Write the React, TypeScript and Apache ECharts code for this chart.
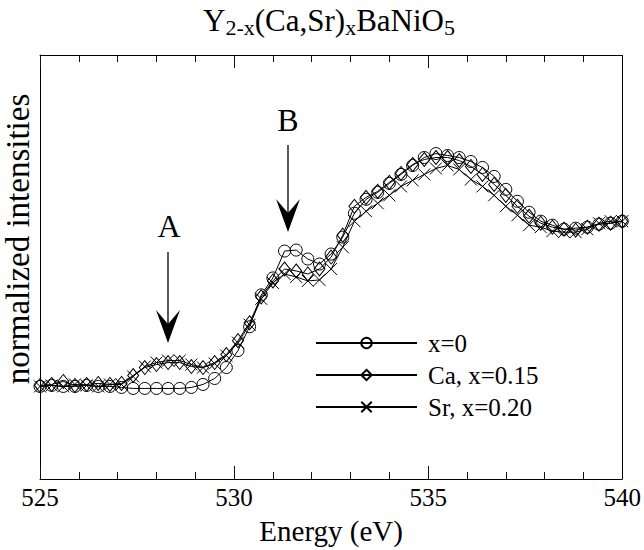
import React, { useEffect, useRef } from "react";
import * as echarts from "echarts";

// Photon energy (eV)
const energy = [
  525.0, 525.3, 525.6, 525.9, 526.2, 526.5, 526.8, 527.1, 527.4, 527.7,
  528.0, 528.3, 528.6, 528.9, 529.2, 529.5, 529.8, 530.1, 530.4, 530.7,
  531.0, 531.3, 531.6, 531.9, 532.2, 532.5, 532.8, 533.1, 533.4, 533.7,
  534.0, 534.3, 534.6, 534.9, 535.2, 535.5, 535.8, 536.1, 536.4, 536.7,
  537.0, 537.3, 537.6, 537.9, 538.2, 538.5, 538.8, 539.1, 539.4, 539.7,
  540.0,
];

// normalized intensities (arbitrary units)
const x0 = [
  93, 94, 93, 93, 94, 93, 93, 92, 91, 91,
  91, 91, 91, 92, 95, 101, 112, 129, 153, 185,
  202, 229, 230, 221, 216, 226, 243, 267, 281, 288,
  297, 306, 315, 323, 327, 325, 323, 319, 313, 304,
  291, 279, 268, 259, 255, 251, 252, 253, 256, 257,
  259,
];

const ca015 = [
  94, 95, 98, 94, 95, 96, 95, 96, 104, 112,
  115, 117, 117, 113, 112, 117, 125, 139, 157, 183,
  199, 211, 209, 206, 211, 223, 245, 274, 283, 289,
  298, 307, 316, 321, 323, 323, 320, 314, 306, 296,
  285, 274, 264, 257, 253, 251, 250, 253, 256, 257,
  259,
];

const sr020 = [
  93, 94, 93, 95, 94, 93, 95, 95, 103, 113,
  117, 119, 119, 115, 112, 116, 124, 137, 155, 181,
  197, 206, 203, 199, 200, 211, 233, 259, 269, 277,
  285, 294, 300, 306, 312, 315, 311, 301, 294, 285,
  274, 265, 255, 253, 249, 248, 248, 251, 257, 259,
  259,
];

const seriesNames = ["x=0", "Ca, x=0.15", "Sr, x=0.20"];
const xTicks = { min: 525, max: 540, interval: 5 };
const yRange = { min: 0, max: 426 };

const FONT = "Liberation Serif";
const TICK = "#111111";

function arrow(x: number, yStart: number, yTip: number) {
  return [
    {
      type: "line",
      shape: { x1: x, y1: yStart, x2: x, y2: yTip - 14 },
      style: { stroke: "#000", lineWidth: 1.3 },
    },
    {
      type: "polygon",
      shape: {
        points: [
          [x - 12, yTip - 33],
          [x, yTip - 19],
          [x + 12, yTip - 33],
          [x, yTip],
        ],
      },
      style: { fill: "#000" },
    },
  ];
}

export default function App() {
  const ref = useRef<HTMLDivElement>(null);

  useEffect(() => {
    if (!ref.current) return;
    const chart = echarts.init(ref.current, undefined, { renderer: "svg" });
    const pairs = (vals: number[]) => energy.map((e, i) => [e, vals[i]]);
    const lineSeries = (name: string, vals: number[], symbol: string, symbolSize: any, extra: any = {}) => ({
      type: "line",
      name,
      data: pairs(vals),
      symbol,
      symbolSize,
      lineStyle: { color: "#000", width: 1 },
      itemStyle: { color: "rgba(0,0,0,0)", borderColor: "#000", borderWidth: 1 },
      emphasis: { disabled: true },
      ...extra,
    });
    chart.setOption({
      animation: false,
      backgroundColor: "#fff",
      textStyle: { fontFamily: FONT },
      grid: {
        left: 40,
        right: 18,
        top: 55,
        bottom: 69,
        show: false,
      },
      legend: {
        orient: "vertical",
        left: 315,
        top: 330,
        padding: 0,
        itemWidth: 101,
        itemHeight: 13,
        itemGap: 6,
        selectedMode: false,
        data: seriesNames,
        textStyle: {
          fontFamily: FONT,
          fontSize: 25,
          color: "#000",
          lineHeight: 26,
          padding: [0, 0, 0, 6],
        },
      },
      xAxis: [
        {
          type: "value",
          min: xTicks.min,
          max: xTicks.max,
          interval: xTicks.interval,
          position: "bottom",
          name: "Energy (eV)",
          nameLocation: "middle",
          nameGap: 37,
          nameTextStyle: { fontFamily: FONT, fontSize: 29, color: "#000" },
          axisLabel: { fontFamily: FONT, fontSize: 25, color: "#000", margin: 6 },
          axisLine: { show: true, onZero: false, lineStyle: { color: "#000", width: 1 } },
          axisTick: { show: false },
          splitLine: { show: false },
        },
        {
          type: "value",
          min: xTicks.min,
          max: xTicks.max,
          interval: xTicks.interval,
          position: "top",
          axisLabel: { show: false },
          axisLine: { show: true, onZero: false, lineStyle: { color: TICK, width: 1 } },
          axisTick: { show: true, inside: true, length: 13, lineStyle: { color: TICK, width: 1 } },
          minorTick: { show: true, splitNumber: 5, length: 7, lineStyle: { color: TICK, width: 1 } },
          splitLine: { show: false },
        },
        {
          type: "value",
          min: xTicks.min,
          max: xTicks.max,
          interval: xTicks.interval,
          position: "bottom",
          axisLabel: { show: false },
          axisLine: { show: false, onZero: false },
          axisTick: { show: true, inside: true, length: 13, lineStyle: { color: TICK, width: 1 } },
          minorTick: { show: true, splitNumber: 5, length: 7, lineStyle: { color: TICK, width: 1 } },
          splitLine: { show: false },
        },
      ],
      yAxis: [
        {
          type: "value",
          min: yRange.min,
          max: yRange.max,
          position: "left",
          axisLine: { show: true, onZero: false, lineStyle: { color: "#000", width: 1 } },
          axisTick: { show: false },
          axisLabel: { show: false },
          splitLine: { show: false },
        },
      ],
      series: [
        lineSeries(seriesNames[0], x0, "circle", 12, {
          markLine: {
            silent: true,
            symbol: "none",
            label: { show: false },
            emphasis: { disabled: true },
            lineStyle: { color: "#000", width: 1, type: "solid" },
            data: [{ xAxis: xTicks.max }, { yAxis: yRange.max }],
          },
        }),
        lineSeries(seriesNames[1], ca015, "diamond", [11, 14]),
        lineSeries(seriesNames[2], sr020, "path://M0,0L10,10M0,10L10,0", 12),
      ],
      graphic: [
        {
          type: "text",
          x: 329,
          y: 20,
          style: {
            text: "{m|Y}{s|2-x}{m|(Ca,Sr)}{s|x}{m|BaNiO}{s|5}",
            align: "center",
            verticalAlign: "middle",
            fill: "#000",
            rich: {
              m: { fontFamily: FONT, fontSize: 31, lineHeight: 36, fill: "#000" },
              s: { fontFamily: FONT, fontSize: 22, lineHeight: 22, verticalAlign: "bottom", fill: "#000" },
            },
          },
        },
        {
          type: "text",
          x: 17.5,
          y: 239,
          rotation: Math.PI / 2,
          style: {
            text: "normalized intensities",
            align: "center",
            verticalAlign: "middle",
            fontFamily: FONT,
            fontSize: 33,
            fill: "#000",
          },
        },
        {
          type: "text",
          x: 169,
          y: 226,
          style: { text: "A", align: "center", verticalAlign: "middle", fontFamily: FONT, fontSize: 32, fill: "#000" },
        },
        {
          type: "text",
          x: 288,
          y: 120,
          style: { text: "B", align: "center", verticalAlign: "middle", fontFamily: FONT, fontSize: 32, fill: "#000" },
        },
        ...arrow(168, 252, 343),
        ...arrow(288, 145, 232),
      ],
    });
    return () => chart.dispose();
  }, []);

  return (
    <div
      ref={ref}
      style={{ position: "fixed", left: 0, top: 0, width: 644, height: 550 }}
    />
  );
}
